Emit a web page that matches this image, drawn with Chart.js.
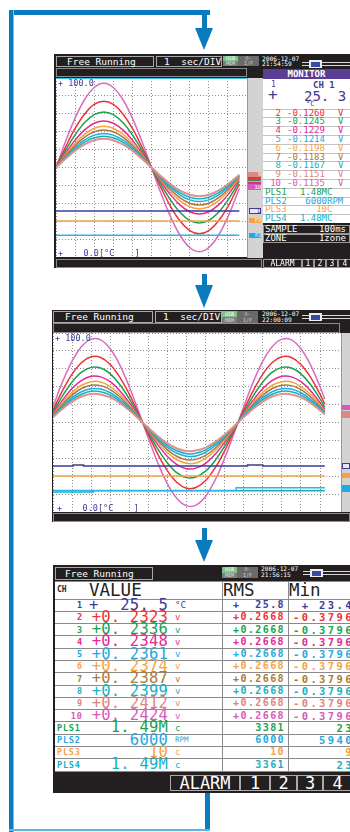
<!DOCTYPE html>
<html><head><meta charset="utf-8">
<script src="https://cdn.jsdelivr.net/npm/chart.js@4.4.1/dist/chart.umd.min.js"></script>
<style>
html,body{margin:0;padding:0;}
body{width:350px;height:832px;overflow:hidden;background:#fff;position:relative;font-family:"DejaVu Sans Mono",monospace;}
.ab{position:absolute;box-sizing:border-box;white-space:pre;overflow:visible;}
canvas{display:block;}
</style></head><body>
<script>
// ---------- DATA ----------
const waveColors = {ch1:'#3d3b96', ch2:'#ee3136', ch3:'#1d9f50', ch4:'#e3298f', ch5:'#22a9e2', ch6:'#f6a243', ch7:'#a97b38', ch8:'#17b0c2', ch9:'#dd928c', ch10:'#d86bc2', pls2:'#2ab8e6', pls3:'#f6a243', pls4:'#17b0c2'};

// screen 1 (x in divisions, y in 0-100 scale)
const xs1 = [0,0.5,1,1.5,2,2.5,3,3.5,4,4.5,5,5.5,6,6.5,7,7.5,8,8.5,9,9.6];
const s1Ch10 = [50,64.5,77.6,88,94.7,97,94.7,88,77.6,64.5,50,35.5,22.4,12,5.3,3,5.3,12,22.4,38.3];
const s1Ch2  = [50,61.4,71.8,79.9,85.2,87,85.2,79.9,71.8,61.4,50,38.6,28.2,20.1,14.8,13,14.8,20.1,28.2,40.8];
const s1Ch3  = [50,59.6,68.2,75.1,79.5,81,79.5,75.1,68.2,59.6,50,40.4,31.8,24.9,20.5,19,20.5,24.9,31.8,42.3];
const s1Ch4  = [50,58,65.3,71,74.7,76,74.7,71,65.3,58,50,42,34.7,29,25.3,24,25.3,29,34.7,43.5];
const s1Ch6  = [50,57.1,63.5,68.6,71.9,73,71.9,68.6,63.5,57.1,50,42.9,36.5,31.4,28.1,27,28.1,31.4,36.5,44.3];
const s1Ch7  = [50,56.5,62.3,67,70,71,70,67,62.3,56.5,50,43.5,37.7,33,30,29,30,33,37.7,44.8];
const s1Ch5  = [50,55.9,61.2,65.4,68.1,69,68.1,65.4,61.2,55.9,50,44.1,38.8,34.6,31.9,31,31.9,34.6,38.8,45.3];
const s1Ch8  = [50,55.4,60.3,64.2,66.6,67.5,66.6,64.2,60.3,55.4,50,44.6,39.7,35.8,33.4,32.5,33.4,35.8,39.7,45.6];
const s1Ch9  = [50,54.9,59.4,62.9,65.2,66,65.2,62.9,59.4,54.9,50,45.1,40.6,37.1,34.8,34,34.8,37.1,40.6,46];
const s1FlatX = [0,9.6];
const s1Ch1  = [25.7,25.7];
const s1Pls3 = [20.1,20.1];
const s1Pls2 = [12.2,12.2];

// screen 2
const xs2 = [0,0.5,1,1.5,2,2.5,3,3.5,4,4.5,5,5.5,6,6.5,7,7.5,8,8.5,9,9.5,10,10.5,11,11.5,12,12.5,13,13.5,14,14.25];
const s2Ch10 = [58.8,72.7,84.3,92.5,96.6,96.2,91.2,82.2,70.0,55.9,41.2,27.3,15.7,7.5,3.4,3.8,8.8,17.8,30.0,44.1,58.8,72.7,84.3,92.5,96.6,96.2,91.2,82.2,70.0,63.1];
const s2Ch2  = [56.9,67.8,77.0,83.5,86.7,86.3,82.4,75.3,65.8,54.6,43.1,32.2,23.0,16.5,13.3,13.7,17.6,24.7,34.2,45.4,56.9,67.8,77.0,83.5,86.7,86.3,82.4,75.3,65.8,60.3];
const s2Ch3  = [55.8,64.9,72.6,78.1,80.8,80.4,77.2,71.2,63.2,53.9,44.2,35.1,27.4,21.9,19.2,19.6,22.8,28.8,36.8,46.1,55.8,64.9,72.6,78.1,80.8,80.4,77.2,71.2,63.2,58.6];
const s2Ch4  = [54.9,62.5,69.0,73.5,75.8,75.5,72.8,67.8,61.1,53.3,45.1,37.5,31.0,26.5,24.2,24.5,27.2,32.2,38.9,46.7,54.9,62.5,69.0,73.5,75.8,75.5,72.8,67.8,61.1,57.3];
const s2Ch6  = [54.3,61.1,66.8,70.8,72.8,72.6,70.1,65.8,59.8,52.9,45.7,38.9,33.2,29.2,27.2,27.4,29.9,34.2,40.2,47.1,54.3,61.1,66.8,70.8,72.8,72.6,70.1,65.8,59.8,56.4];
const s2Ch7  = [53.9,60.1,65.3,69.0,70.8,70.6,68.4,64.4,58.9,52.6,46.1,39.9,34.7,31.0,29.2,29.4,31.6,35.6,41.1,47.4,53.9,60.1,65.3,69.0,70.8,70.6,68.4,64.4,58.9,55.9];
const s2Ch5  = [53.6,59.2,63.9,67.2,68.8,68.7,66.6,63.0,58.1,52.4,46.4,40.8,36.1,32.8,31.2,31.3,33.4,37.0,41.9,47.6,53.6,59.2,63.9,67.2,68.8,68.7,66.6,63.0,58.1,55.3];
const s2Ch8  = [53.3,58.4,62.8,65.8,67.4,67.2,65.3,62.0,57.5,52.2,46.7,41.6,37.2,34.2,32.6,32.8,34.7,38.0,42.5,47.8,53.3,58.4,62.8,65.8,67.4,67.2,65.3,62.0,57.5,54.9];
const s2Ch9  = [53.0,57.7,61.7,64.5,65.9,65.7,64.0,61.0,56.8,52.0,47.0,42.3,38.3,35.5,34.1,34.3,36.0,39.0,43.2,48.0,53.0,57.7,61.7,64.5,65.9,65.7,64.0,61.0,56.8,54.5];
const s2Ch1X = [0,1.05,1.6,10.2,11.0,14.25];
const s2Ch1  = [25.7,26.3,25.7,26.3,25.7,25.7];
const s2Pls3X = [0,14.25];
const s2Pls3 = [20.1,20.1];
const s2Pls2X = [0,7.05,9.6,14.25];
const s2Pls2 = [12.0,12.0,13.6,13.6];
const s2Pls4X = [0,2.1,14.25];
const s2Pls4 = [11.2,11.9,11.9];

// monitor panel (screen 1)
const monCh   = ['2','3','4','5','6','7','8','9','10'];
const monVal  = ['-0.1260','-0.1245','-0.1229','-0.1214','-0.1198','-0.1183','-0.1167','-0.1151','-0.1135'];
const monCol  = ['#ee3136','#1d9f50','#e3298f','#22a9e2','#f6a243','#a97b38','#17b0c2','#db8583','#d75ab8'];
const monPls  = ['PLS1','PLS2','PLS3','PLS4'];
const monPlsVal = ['1.48M','6000','10','1.48M'];
const monPlsUnit = ['C','RPM','C','C'];
const monPlsCol = ['#1d9f50','#22a9e2','#f6a243','#17b0c2'];

// table (screen 3)
const tabCh    = ['1','2','3','4','5','6','7','8','9','10','PLS1','PLS2','PLS3','PLS4'];
const tabCol   = ['#3d3b96','#ee3136','#1d9f50','#e3298f','#22a9e2','#f6a243','#a97b38','#17b0c2','#db8583','#d75ab8','#1d9f50','#22a9e2','#f6a243','#17b0c2'];
const tabVal   = ['25. 5','+0. 2323','+0. 2336','+0. 2348','+0. 2361','+0. 2374','+0. 2387','+0. 2399','+0. 2412','+0. 2424','1. 49M','6000','10','1. 49M'];
const tabUnit  = ['°C','v','v','v','v','v','v','v','v','v','c','RPM','c','c'];
const tabRms   = ['+  25.8','+0.2668','+0.2668','+0.2668','+0.2668','+0.2668','+0.2668','+0.2668','+0.2668','+0.2668','3381','6000','10','3361'];
const tabMin   = ['+ 23.4','-0.3796','-0.3796','-0.3796','-0.3796','-0.3796','-0.3796','-0.3796','-0.3796','-0.3796','23','5940','9','23'];

// ---------- helpers ----------
function box(l,t,w,h,css,txt){
  const d=document.createElement('div'); d.className='ab';
  d.style.left=l+'px'; d.style.top=t+'px';
  if(w!=null) d.style.width=w+'px'; if(h!=null) d.style.height=h+'px';
  if(css) d.style.cssText+=';'+css;
  if(txt!=null) d.textContent=txt;
  document.body.appendChild(d); return d;
}
const BD='border:1px solid #a8a8a8;';
const W='color:#fff;';
function usb(l,t,h){
  box(l,t,15,h,'background:#7cc48b;color:#f4fff4;font-size:5px;line-height:'+h+'px;text-align:center','USB');
  box(l,t+h,15,h,'background:#7c7c7c;color:#ddd;font-size:5px;line-height:'+h+'px;text-align:center','MEM');
  box(l+15,t,21,2*h,'background:#6a6a6a;color:#ccc;font-size:5px;line-height:'+h+'px;text-align:center','O-\nI/F');
}
function cable(l,y){
  box(l,y,350-l,1,'background:#d8d8d8');
  box(l,y+3,350-l,1,'background:#d8d8d8');
  box(l+7,y-2,13,8,'background:#eee');
  box(l+9,y-0.5,9,5,'background:#3949a8');
}
function canvasAt(id,l,t,w,h){
  const d=box(l,t,w,h,'background:#fff');
  const c=document.createElement('canvas'); c.id=id; c.width=w; c.height=h; d.appendChild(c); return c;
}

// ---------- SCREEN 1 ----------
box(54,54,296,214,'background:#231f20');
box(56,56,98,11,BD+W+'font-size:9.5px;line-height:9px;padding-left:10px','Free Running');
box(156,56,66,11,BD+W+'font-size:9.5px;line-height:9px;padding-left:7px','1  sec/DIV');
usb(223,56,5);
box(262,56,40,11,W+'font-size:6.2px;line-height:5.4px','2006-12-07\n21:54:59');
cable(302,62);
box(56,68,191,9,'border:1px solid #8c8c8c');
const cv1 = canvasAt('c1',56,78,191,179);
box(56,78,191,1,'background:#39c3e6');
box(58,79,60,8,'color:#3d3b96;font-size:8.5px;line-height:8px','+ 100.0');
box(58,249,90,8,'color:#3d3b96;font-size:8.5px;line-height:8px','+    0.0[°C    ]');
box(247,78,16,180,'background:#d3d3d3;border-left:1px solid #999');
box(248,172,13,5,'background:#d98a86;color:#fff;font-size:5px;line-height:5px;text-align:right','9');
box(248,177,13,2,'background:#ee3136'); box(248,179,13,1.5,'background:#1d9f50');
box(248,180.5,13,1.5,'background:#f6a243'); box(248,182,13,2,'background:#e3298f');
box(248,184,13,6,'background:#d75ab8;color:#fff;font-size:5.5px;line-height:6px;text-align:right','10');
box(249,208,12,6,'border:1px solid #3d3b96;background:#e8e8f4;color:#3d3b96;font-size:5px;line-height:4px;text-align:right','1');
box(249,218,12,5,'background:#f6a243;color:#fff;font-size:5px;line-height:5px;text-align:right','P3');
box(249,233,12,5,'background:#22a9e2;color:#fff;font-size:5px;line-height:5px;text-align:right','P2');
// monitor
box(263,69,87,10,'background:#5b3d96;color:#fff;font-weight:bold;font-size:9px;line-height:10px;text-align:center','MONITOR');
box(263,79,87,30,'background:#fff');
box(271,81,10,8,'color:#3d3b96;font-size:8px;line-height:8px','1');
box(313,81,38,8,'color:#3d3b96;font-weight:bold;font-size:9px;line-height:8px','CH 1');
box(268,88,14,14,'color:#3d3b96;font-size:16px;line-height:14px','+');
box(304,90,50,14,'color:#3d3b96;font-size:14px;line-height:13px','25. 3');
box(306,101,14,7,'color:#3d3b96;font-size:7px;line-height:7px','°C');
const RH=8.8;
monCh.forEach((n,i)=>{
  const t=108.6+RH*i;
  box(263,t,87,RH,'background:#fff;border-top:1px solid #c4c4c4');
  box(263,t,18,RH,'color:'+monCol[i]+';font-size:9px;line-height:9px;text-align:right',n);
  box(287,t,45,RH,'color:'+monCol[i]+';font-size:9px;line-height:9px',monVal[i]);
  box(338,t,8,RH,'color:'+monCol[i]+';font-size:9px;line-height:9px','V');
});
monPls.forEach((n,i)=>{
  const t=108.6+RH*(9+i);
  box(263,t,87,RH,'background:#fff;border-top:1px solid #c4c4c4');
  box(265,t,30,RH,'color:'+monPlsCol[i]+';font-size:9px;line-height:9px',n);
  box(290,t,37,RH,'color:'+monPlsCol[i]+';font-size:9px;line-height:9px;text-align:right',monPlsVal[i]);
  box(327,t,20,RH,'color:'+monPlsCol[i]+';font-size:9px;line-height:9px',monPlsUnit[i]);
});
box(263,225,87,9,'border:1px solid #999');
box(265,225,40,9,W+'font-size:9px;line-height:9px','SAMPLE');
box(300,225,46,9,W+'font-size:9px;line-height:9px;text-align:right','100ms');
box(263,234,87,9,'border:1px solid #999');
box(265,234,40,9,W+'font-size:9px;line-height:9px','ZONE');
box(300,234,46,9,W+'font-size:9px;line-height:9px;text-align:right','1zone');
box(56,259,206,9,'border:1px solid #8c8c8c');
[[263,302,'ALARM'],[302,314,'1'],[314,326,'2'],[326,338,'3'],[338,352,'4']].forEach(b=>{
  box(b[0],259,b[1]-b[0],9,'border:1px solid #999;'+W+'font-size:8px;line-height:8px;text-align:center',b[2]);
});

// ---------- SCREEN 2 ----------
box(52,310,298,212,'background:#231f20');
box(53,311,100,12,BD+W+'font-size:9.5px;line-height:10px;padding-left:11px','Free Running');
box(155,311,67,12,BD+W+'font-size:9.5px;line-height:10px;padding-left:7px','1  sec/DIV');
usb(222,311,6);
box(262,311,40,12,W+'font-size:6.2px;line-height:5.8px','2006-12-07\n22:00:09');
cable(302,315);
box(53,323,287,10,'border:1px solid #8c8c8c');
const cv2 = canvasAt('c2',53,333,288,179);
box(55,334,60,8,'color:#3d3b96;font-size:8.5px;line-height:8px','+ 100.0');
box(57,504,90,8,'color:#3d3b96;font-size:8.5px;line-height:8px','+    0.0[°C    ]');
box(341,333,9,179,'background:#d3d3d3;border-left:1px solid #999');
box(342,405,8,5,'background:#d75ab8');
box(342,411,8,7,'background:#d98a86');
box(342,463,8,6,'border:1px solid #3d3b96;background:#e8e8f4');
box(342,473,8,5,'background:#f6a243');
box(342,485,8,7,'background:#22a9e2');
box(53,513,297,9,'border:1px solid #8c8c8c');

// ---------- SCREEN 3 ----------
box(53,565,297,228,'background:#231f20');
box(55,567,98,13,BD+W+'font-size:9.5px;line-height:11px;padding-left:9px','Free Running');
usb(222,567,5.5);
box(261,566,40,12,W+'font-size:6.2px;line-height:5.6px','2006-12-07\n21:56:15');
cable(303,571);
box(55,581,295,190,'background:#fff');
box(57,581,22,18,'color:#222;font-weight:bold;font-size:8px;line-height:18px','CH');
box(89,581,80,18,'color:#222;font-size:17.5px;line-height:19px','VALUE');
box(223,581,60,18,'color:#222;font-size:17.5px;line-height:19px','RMS');
box(289,581,60,18,'color:#222;font-size:17.5px;line-height:19px','Min');
const TR=12.29;
for(let i=0;i<=14;i++) box(55,599+TR*i-0.5,295,1,'background:#8a8a8a');
box(55,581,295,1,'background:#8a8a8a');
box(221.5,581,1,190,'background:#8a8a8a');
box(287.5,581,1,190,'background:#8a8a8a');
tabCh.forEach((n,i)=>{
  const t=599+TR*i, c='color:'+tabCol[i]+';';
  const isP=n.startsWith('PLS');
  if(isP) box(57,t,34,TR,c+'font-weight:bold;font-size:8.5px;line-height:'+TR+'px;letter-spacing:0.8px',n);
  else box(60,t,23,TR,c+'font-weight:bold;font-size:8.5px;line-height:'+TR+'px;text-align:right;letter-spacing:1px',n);
  if(i===0) box(89,t-0.5,12,TR,c+'font-size:15.5px;line-height:'+TR+'px','+');
  box(70,t-0.5,98,TR,c+'font-size:15.5px;line-height:'+TR+'px;text-align:right;letter-spacing:0.2px',tabVal[i]);
  box(175,t,30,TR,c+'font-size:'+(tabUnit[i]==='RPM'?7.5:9)+'px;line-height:'+TR+'px',tabUnit[i]);
  box(222,t,63,TR,c+'font-weight:bold;font-size:10px;line-height:'+TR+'px;text-align:right;letter-spacing:1.4px',tabRms[i]);
  box(288,t,66,TR,c+'font-weight:bold;font-size:10.5px;line-height:'+TR+'px;text-align:right;letter-spacing:2.4px',tabMin[i]);
});
[[170,240,'ALARM'],[240,270,'1'],[270,297,'2'],[297,323,'3'],[323,352,'4']].forEach(b=>{
  box(b[0],775,b[1]-b[0],16,'border:1px solid #aaa;'+W+'font-size:17px;line-height:15px;text-align:center',b[2]);
});

// ---------- BLUE FLOW FRAME ----------
const BL='#0b7bc0';
function head(l,t,h){ box(l,t,0,0,'width:0;height:0;border-left:9.5px solid transparent;border-right:9.5px solid transparent;border-top:'+h+'px solid '+BL); }
box(9,10,201,5,'background:'+BL);
box(9,10,5,822,'background:'+BL+';border-right:1px solid #7cc3ea');
box(202,10,5,18,'background:'+BL); head(195,28,22);
box(202,274,5,11,'background:'+BL); head(195,285,23);
box(202,528,5,12,'background:'+BL); head(195,540,22);
box(205,793,5,37,'background:'+BL);
box(9,829,201,2,'background:#63b3e3');

// ---------- CHARTS ----------
function ds(xs,ys,color,stepped,w){
  return {data:xs.map((x,i)=>({x:x,y:ys[i]})),borderColor:color,borderWidth:w||1.5,pointRadius:0,
    tension:stepped?0:0.35,stepped:stepped?true:false,fill:false};
}
function opts(xmax){
  const g={color:'#8e8e8e',drawTicks:false,lineWidth:1};
  return {responsive:false,animation:false,devicePixelRatio:1,layout:{padding:0},
    plugins:{legend:{display:false},tooltip:{enabled:false}},
    scales:{
      x:{type:'linear',min:0,max:xmax,ticks:{display:false,stepSize:1},grid:g,border:{display:false,dash:[1,2]}},
      y:{type:'linear',min:0,max:100,ticks:{display:false,stepSize:10},grid:g,border:{display:false,dash:[1,2]}}
    }};
}
new Chart(cv1,{type:'line',data:{datasets:[
  ds(s1FlatX,s1Ch1,waveColors.ch1,true),
  ds(s1FlatX,s1Pls3,waveColors.pls3,true),
  ds(s1FlatX,s1Pls2,waveColors.pls2,true),
  ds(xs1,s1Ch9,waveColors.ch9,false,2),
  ds(xs1,s1Ch8,waveColors.ch8),
  ds(xs1,s1Ch5,waveColors.ch5),
  ds(xs1,s1Ch7,waveColors.ch7),
  ds(xs1,s1Ch6,waveColors.ch6),
  ds(xs1,s1Ch4,waveColors.ch4),
  ds(xs1,s1Ch3,waveColors.ch3),
  ds(xs1,s1Ch2,waveColors.ch2),
  ds(xs1,s1Ch10,waveColors.ch10)
]},options:opts(10)});
new Chart(cv2,{type:'line',data:{datasets:[
  ds(s2Ch1X,s2Ch1,waveColors.ch1,true),
  ds(s2Pls3X,s2Pls3,waveColors.pls3,true),
  ds(s2Pls2X,s2Pls2,waveColors.pls2,true),
  ds(s2Pls4X,s2Pls4,waveColors.pls4,true),
  ds(xs2,s2Ch9,waveColors.ch9,false,2),
  ds(xs2,s2Ch8,waveColors.ch8),
  ds(xs2,s2Ch5,waveColors.ch5),
  ds(xs2,s2Ch7,waveColors.ch7),
  ds(xs2,s2Ch6,waveColors.ch6),
  ds(xs2,s2Ch4,waveColors.ch4),
  ds(xs2,s2Ch3,waveColors.ch3),
  ds(xs2,s2Ch2,waveColors.ch2),
  ds(xs2,s2Ch10,waveColors.ch10)
]},options:opts(15.1)});
</script>
</body></html>
